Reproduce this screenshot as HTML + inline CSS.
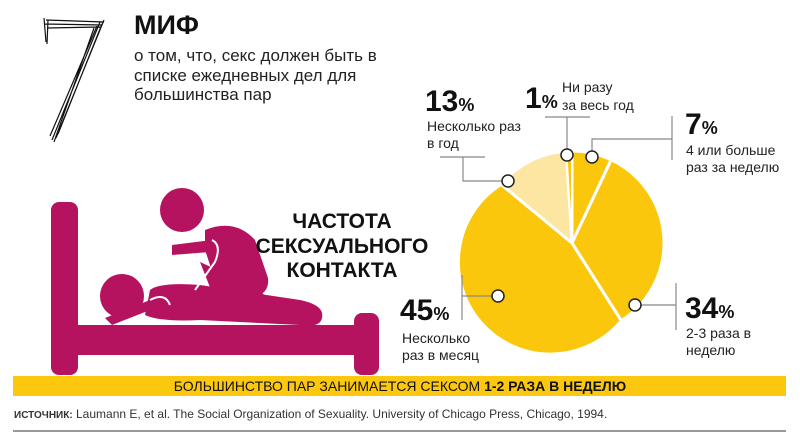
<!DOCTYPE html>
<html><head><meta charset="utf-8"><style>
html,body{margin:0;padding:0;background:#fff;}
svg{display:block;font-family:"Liberation Sans","Noto Sans CJK SC",sans-serif;}
</style></head><body>
<svg width="800" height="440" viewBox="0 0 800 440">
<g stroke="#111" stroke-width="1.2" fill="none">
<path d="M46 20 L104 22 M45 24 L102 25 M47 28 L100 27 M44 18 L46 42 M48 20 L47 44 M104 20 L56 138 M100 22 L52 140 M97 26 L50 136 M102 24 L58 134 M94 28 L54 142"/>
</g>
<text x="134" y="34" font-size="27" font-weight="bold" fill="#111">МИФ</text>
<g font-size="17" fill="#222">
<text x="134" y="61">о том, что, секс должен быть в</text>
<text x="134" y="81">списке ежедневных дел для</text>
<text x="134" y="100">большинства пар</text>
</g>
<g fill="#b5135f">
<rect x="51" y="202" width="27" height="173" rx="8"/>
<rect x="51" y="325" width="327" height="30"/>
<rect x="354" y="313" width="25" height="62" rx="8"/>
<circle cx="182" cy="210" r="22"/>
<circle cx="122" cy="296" r="22"/>
<path d="M150 290 Q160 282 200 285 L300 300 Q325 305 322 318 Q320 328 300 325 L200 320 Q160 322 145 315 Z"/>
<path d="M205 230 Q235 218 255 240 L268 278 Q270 295 250 298 L220 300 Q212 270 205 250 Z"/>
<path d="M200 262 L250 285 L272 300 L260 312 L215 300 Z"/>
<path d="M172 245 L212 240 L210 252 L172 255 Z"/>
<path d="M105 318 L150 300 L155 308 L112 325 Z"/>
</g>
<g stroke="#fff" stroke-width="2" fill="none">
<path d="M212 240 Q222 245 215 262 L195 290"/>
<path d="M150 300 Q165 292 170 305"/>
</g>
<g font-size="21" font-weight="bold" fill="#111" text-anchor="middle">
<text x="342" y="228">ЧАСТОТА</text>
<text x="342" y="253">СЕКСУАЛЬНОГО</text>
<text x="342" y="277">КОНТАКТА</text>
</g>
<g stroke="#fff" stroke-width="3" stroke-linejoin="round">
<path d="M572 243 L572 151 A92 92 0 0 1 611.2 159.8 Z" fill="#fbc70d"/>
<path d="M572 243 L611.2 159.8 A92 92 0 0 1 621.3 320.7 Z" fill="#fbc70d"/>
<path d="M572 243 L621.3 320.7 A92 92 0 1 1 501.1 184.4 Z" fill="#fbc70d"/>
<path d="M572 243 L501.1 184.4 A92 92 0 0 1 566.2 151.2 Z" fill="#fce6a2"/>
<path d="M572 243 L566.2 151.2 A92 92 0 0 1 572 151 Z" fill="#fbc70d" stroke-width="2"/>
</g>
<g stroke="#888" stroke-width="1.2" fill="none">
<path d="M440 157 H485 M463 157 V181 H508"/>
<path d="M545 117 H590 M567 117 V155"/>
<path d="M592 157 V139 H672 M672 116 V160"/>
<path d="M635 305 H676 M676 283 V330"/>
<path d="M498 296 H462 M462 275 V320"/>
</g>
<g fill="#fff" stroke="#222" stroke-width="1.5">
<circle cx="508" cy="181" r="6"/><circle cx="567" cy="155" r="6"/><circle cx="592" cy="157" r="6"/>
<circle cx="635" cy="305" r="6"/><circle cx="498" cy="296" r="6"/>
</g>
<g fill="#111" font-weight="bold">
<text x="425" y="111" font-size="30">13<tspan font-size="18">%</tspan></text>
<text x="525" y="108" font-size="30">1<tspan font-size="18">%</tspan></text>
<text x="685" y="134" font-size="30">7<tspan font-size="18">%</tspan></text>
<text x="685" y="318" font-size="30">34<tspan font-size="18">%</tspan></text>
<text x="400" y="320" font-size="30">45<tspan font-size="18">%</tspan></text>
</g>
<g fill="#222" font-size="14">
<text x="427" y="131">Несколько раз</text><text x="427" y="148">в год</text>
<text x="562" y="92">Ни разу</text><text x="562" y="110">за весь год</text>
<text x="686" y="155">4 или больше</text><text x="686" y="172">раз за неделю</text>
<text x="686" y="338">2-3 раза в</text><text x="686" y="355">неделю</text>
<text x="402" y="343">Несколько</text><text x="402" y="360">раз в месяц</text>
</g>
<rect x="13" y="376" width="773" height="20" fill="#fcc70f"/>
<text x="400" y="391" font-size="14" text-anchor="middle" fill="#111">БОЛЬШИНСТВО ПАР ЗАНИМАЕТСЯ СЕКСОМ <tspan font-weight="bold">1-2 РАЗА В НЕДЕЛЮ</tspan></text>
<text x="14" y="418" font-size="12" fill="#333"><tspan font-weight="bold" font-size="10">ИСТОЧНИК:</tspan> Laumann E, et al. The Social Organization of Sexuality. University of Chicago Press, Chicago, 1994.</text>
<line x1="13" y1="431" x2="786" y2="431" stroke="#333" stroke-width="1"/>
</svg>
</body></html>
